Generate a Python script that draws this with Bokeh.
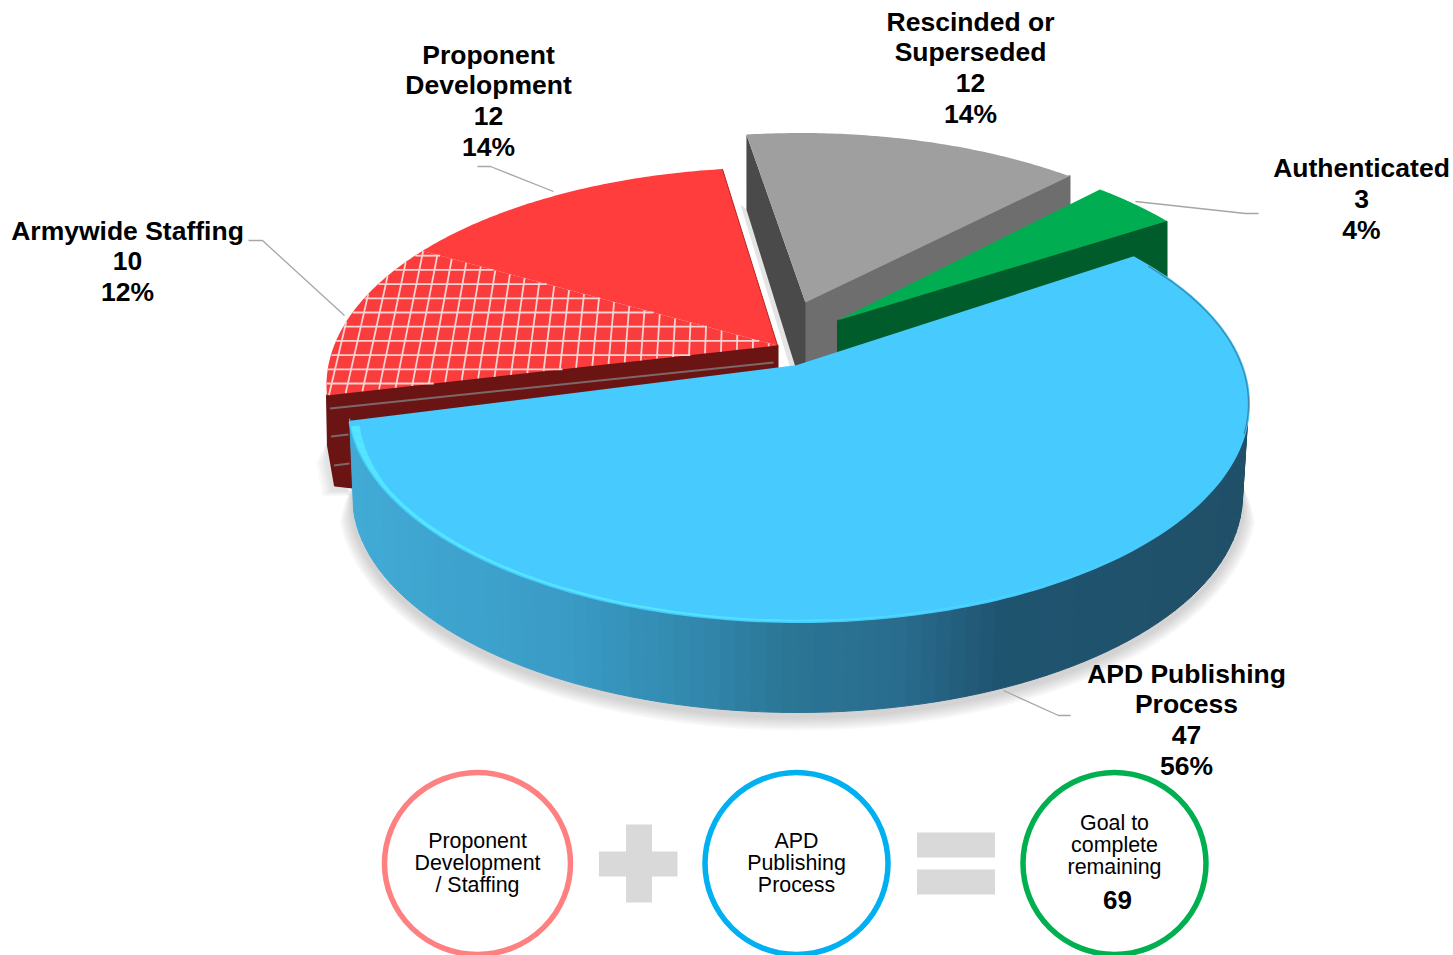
import math
from bokeh.plotting import figure
from bokeh.models import Range1d
from bokeh.core.properties import value
from bokeh.embed import file_html
from bokeh.resources import INLINE

# ---------- data ----------
categories = ["Rescinded or Superseded", "Authenticated", "APD Publishing Process", "Armywide Staffing", "Proponent Development"]
label_lines = [["Rescinded or", "Superseded"], ["Authenticated"], ["APD Publishing", "Process"], ["Armywide Staffing"], ["Proponent", "Development"]]
series_values = [12, 3, 47, 10, 12]
goal_remaining = 69
circle_labels = [["Proponent", "Development", "/ Staffing"], ["APD", "Publishing", "Process"], ["Goal to", "complete", "remaining"]]
total = sum(series_values)

# ---------- layout (pixel space of the page) ----------
FONT = value("Liberation Sans")
RX, RY = 450, 218
# centre x/y of each slice's ellipse, start angle, angular scale of the projection
GEOM = {
    "Rescinded or Superseded": (800, 350.5, 96.9, 0.848),
    "Authenticated": (820.5, 360, 51.7, 0.93),
    "APD Publishing Process": (798, 403, 41.9, 1.077),
    "Armywide Staffing": (776, 385, 182.6, 0.95),
    "Proponent Development": (776, 385, 141.9, 0.875),
}
APEX = {
    "Rescinded or Superseded": (805, 302),
    "Authenticated": (837, 320),
    "APD Publishing Process": (797, 366),
    "Armywide Staffing": (777, 345),
    "Proponent Development": (777, 345),
}
val = dict(zip(categories, series_values))

def arc(cat, n=80):
    cx, cy, t0, k = GEOM[cat]
    sweep = 360 * val[cat] / total * k
    ts = [math.radians(t0 - sweep * i / n) for i in range(n + 1)]
    return [cx + RX * math.cos(t) for t in ts], [cy - RY * math.sin(t) for t in ts], ts

def mix(c1, c2, f):
    f = max(0, min(1, f))
    return "#%02x%02x%02x" % tuple(round(a + (b - a) * f) for a, b in zip(c1, c2))

p = figure(width=1453, height=955, output_backend="svg", toolbar_location=None,
           x_range=Range1d(0, 1453), y_range=Range1d(955, 0), min_border=0,
           outline_line_color=None, background_fill_color="white", border_fill_color="white")
p.xaxis.visible = False
p.yaxis.visible = False
p.xgrid.visible = False
p.ygrid.visible = False

# ---------- soft shadows ----------
B = "APD Publishing Process"
RXB = RX - 5
BCX = 797
for i in range(7):
    grow = 15 - 2 * i
    xs, ys = [], []
    for d in range(176, 366, 2):
        t = math.radians(d)
        g = grow * min(1, max(0, min(d - 176, 364 - d)) / 10)
        xs.append(BCX + (RXB + g) * math.cos(t))
        ys.append(498 - (RY - 1 + g) * math.sin(t))
    p.patch(xs, ys, fill_color="#808080", fill_alpha=0.055, line_color=None)
for i in range(5):
    g = 11 - 2.2 * i
    p.patch([327, 327 - g, 333 - g, 350], [440, 462, 490 + g / 2, 490 + g / 2], fill_color="#808080", fill_alpha=0.05, line_color=None)

# ---------- grey slice ----------
G = "Rescinded or Superseded"
ax, ay = APEX[G]
gx, gy, _ = arc(G)
DG = 80
p.patch([gx[0] - 6, gx[0], 796, 789], [gy[0] + 70, gy[0] + 75, 367, 365], fill_color="#e4e4e4", line_color=None)
p.patch([ax, gx[-1], gx[-1], ax], [ay, gy[-1], gy[-1] + DG, ay + DG], fill_color="#6e6e6e", line_color="#6e6e6e", line_width=2, line_join="round")
p.patch([gx[0], ax, ax, 796, gx[0]], [gy[0], ay, ay + 66, 370, gy[0] + 75], fill_color="#4a4a4a", line_color=None)
p.patch(gx + [ax], gy + [ay], fill_color="#9f9f9f", line_color=None)

# ---------- green slice ----------
E = "Authenticated"
ax, ay = APEX[E]
ex, ey, _ = arc(E)
p.patch([ax, ex[-1], ex[-1], ax], [ay, ey[-1], ey[-1] + 62, ay + 32], fill_color="#005c2b", line_color="#005c2b", line_width=1, line_join="round")
p.patch(ex + [ax], ey + [ay], fill_color="#00ad50", line_color=None)

# ---------- red slices ----------
A = "Armywide Staffing"
R = "Proponent Development"
ax, ay = APEX[A]
rx_, ry_, _ = arc(A)
lx, ly = rx_[0], ry_[0]
p.patch([ax, lx, lx + 1, lx + 8, 352, ax], [ay, ly, ly + 50, 485, 487, ay + 27],
        fill_color="#6b1414", line_color="#6b1414", line_width=2, line_join="round")
p.line([ax - 4, lx + 3], [ay + 17, ly + 13], line_color="#7c6868", line_width=2)
p.line([lx + 4, 348], [ly + 41, ly + 39], line_color="#7c6868", line_width=2)
p.line([lx + 7, 349], [ly + 70, ly + 68], line_color="#7c6868", line_width=2)
p.patch(rx_ + [ax], ry_ + [ay], fill_color="#fb3c3c", line_color=None)
px_, py_, _ = arc(R)
p.patch(px_ + [ax], py_ + [ay], fill_color="#ff3d3d", line_color=None)
p.line([px_[-1], ax], [py_[-1], ay], line_color="#b52525", line_width=1)

# hatch of the staffing slice, clipped to its wedge
poly = list(zip(rx_ + [ax], ry_ + [ay]))
def inside(x, y):
    c = False
    for (x1, y1), (x2, y2) in zip(poly, poly[1:] + poly[:1]):
        if (y1 > y) != (y2 > y) and x < x1 + (y - y1) * (x2 - x1) / (y2 - y1):
            c = not c
    return c
def clipped(x1, y1, x2, y2):
    n = 500
    pts = [(x1 + (x2 - x1) * i / n, y1 + (y2 - y1) * i / n) for i in range(n + 1)]
    pts = [q for q in pts if inside(*q)]
    return (pts[0], pts[-1]) if len(pts) > 1 else None
hxs, hys = [], []
y = 383
while y > 250:
    s = clipped(320, y, 780, y)
    if s:
        hxs.append([s[0][0], s[1][0]]); hys.append([y, y])
    y -= 14.2
x0 = 768
while x0 > 300:
    top = 240
    xt = x0 + (776 - x0) * (397 - top) / 1900
    s = clipped(x0, 397, xt, top)
    if s:
        hxs.append([s[0][0], s[1][0]]); hys.append([s[0][1], s[1][1]])
    x0 -= 16.3
p.multi_line(hxs, hys, line_color="#f6d4d4", line_width=1.8)

# ---------- blue slice ----------
cx, cy, t0, k = GEOM[B]
bx, by, bt = arc(B, n=160)
stops = [(345, (0x41, 0xab, 0xd6)), (560, (0x3a, 0x9c, 0xc6)), (700, (0x31, 0x87, 0xac)), (790, (0x2b, 0x75, 0x95)),
         (900, (0x29, 0x6c, 0x8e)), (1000, (0x1f, 0x54, 0x70)), (1250, (0x20, 0x50, 0x68))]
def side_colour(x):
    for (x1, c1), (x2, c2) in zip(stops, stops[1:]):
        if x <= x2:
            return mix(c1, c2, (x - x1) / (x2 - x1))
    return mix(stops[-2][1], stops[-1][1], 1)
DB = 92
sx, sy, sc = [], [], []
ds = list(range(184, 361, 2))
for d1, d2 in zip(ds, ds[1:]):
    a1, a2 = math.radians(d1), math.radians(d2)
    xa, xb = cx + RX * math.cos(a1), cx + RX * math.cos(a2)
    ya, yb = cy - RY * math.sin(a1), cy - RY * math.sin(a2)
    xc, xd = BCX + RXB * math.cos(a2), BCX + RXB * math.cos(a1)
    yc, yd = cy + DB - (RY - 1) * math.sin(a2), cy + DB - (RY - 1) * math.sin(a1)
    sx.append([xa, xb, xc, xd]); sy.append([ya, yb, yc, yd])
    sc.append(side_colour((xa + xb) / 2))
p.patches(sx, sy, fill_color=sc, line_color=sc, line_width=1)

p.patch(bx + [APEX[B][0]], by + [APEX[B][1]], fill_color="#47cbff", line_color="#47cbff", line_width=3, line_join="round")

# bevel along the front rim
def bevel(d):
    return 1.5 + 5 * max(0, 1 - (d - 185) / 18) + 2.5 * max(0, 1 - (d - 185) / 120)
vx, vy, vc = [], [], []
for d1, d2 in zip(range(186, 320, 2), range(188, 322, 2)):
    a1, a2 = math.radians(d1), math.radians(d2)
    vx.append([cx + RX * math.cos(a1), cx + RX * math.cos(a2), cx + (RX - bevel(d2)) * math.cos(a2), cx + (RX - bevel(d1)) * math.cos(a1)])
    vy.append([cy - RY * math.sin(a1), cy - RY * math.sin(a2), cy - (RY - 0.8 * bevel(d2)) * math.sin(a2), cy - (RY - 0.8 * bevel(d1)) * math.sin(a1)])
    vc.append(mix((0x54, 0xe6, 0xff), (0x47, 0xcb, 0xff), (d1 - 250) / 70))
p.patches(vx, vy, fill_color=vc, line_color=None)

# dark edge on the far right rim
ex2, ey2 = [], []
for d in range(-8, 40):
    a = math.radians(d)
    ex2.append(cx + RX * math.cos(a)); ey2.append(cy - RY * math.sin(a))
p.line(ex2, ey2, line_color="#3a7896", line_width=1.3, line_alpha=0.8)

# ---------- leader lines ----------
leaders_x = [[248, 262, 344], [477, 490, 553], [1258, 1245, 1135], [1070, 1058, 1003]]
leaders_y = [[240, 240, 315], [166, 166, 191], [213, 213, 201], [715, 715, 690]]
p.multi_line(leaders_x, leaders_y, line_color="#a6a6a6", line_width=1.3)

# ---------- data labels ----------
LABEL_POS = {G: (970, 21), E: (1361, 167.5), B: (1186, 673), A: (127, 230), R: (488, 54)}
LINE_H = 30.8
tx, ty, tt = [], [], []
for cat, lines, v in zip(categories, label_lines, series_values):
    x, y = LABEL_POS[cat]
    rows = lines + [str(v), f"{round(v / total * 100)}%"]
    for i, row in enumerate(rows):
        tx.append(x); ty.append(y + i * LINE_H); tt.append(row)
p.text(tx, ty, text=tt, text_font=FONT, text_font_style="bold", text_font_size="26.5px",
       text_align="center", text_baseline="middle", text_color="black")

# ---------- bottom row ----------
cxs = [477, 796, 1114]
ccol = ["#ff8080", "#00b0f0", "#00b050"]
p.ellipse(cxs, [863] * 3, width=[186, 183, 183], height=[182] * 3, fill_color="white",
          line_color=ccol, line_width=5.5)
p.patch([625.5, 651.5, 651.5, 677, 677, 651.5, 651.5, 625.5, 625.5, 598.5, 598.5, 625.5],
        [824, 824, 851, 851, 876, 876, 902, 902, 876, 876, 851, 851], fill_color="#d9d9d9", line_color=None)
p.quad(left=[916.5, 916.5], right=[994.5, 994.5], top=[832, 869], bottom=[857, 894], fill_color="#d9d9d9", line_color=None)

cl_x, cl_y, cl_t = [], [], []
for x, lines, y0 in zip(cxs, circle_labels, [840, 840, 822]):
    for i, row in enumerate(lines):
        cl_x.append(x); cl_y.append(y0 + 22 * i); cl_t.append(row)
p.text(cl_x, cl_y, text=cl_t, text_font=FONT, text_font_size="21.4px", text_align="center", text_baseline="middle", text_color="black")
p.text([1117], [899], text=[str(goal_remaining)], text_font=FONT, text_font_style="bold", text_font_size="26px",
       text_align="center", text_baseline="middle", text_color="black")

open("out.html", "w").write(file_html(p, INLINE))
